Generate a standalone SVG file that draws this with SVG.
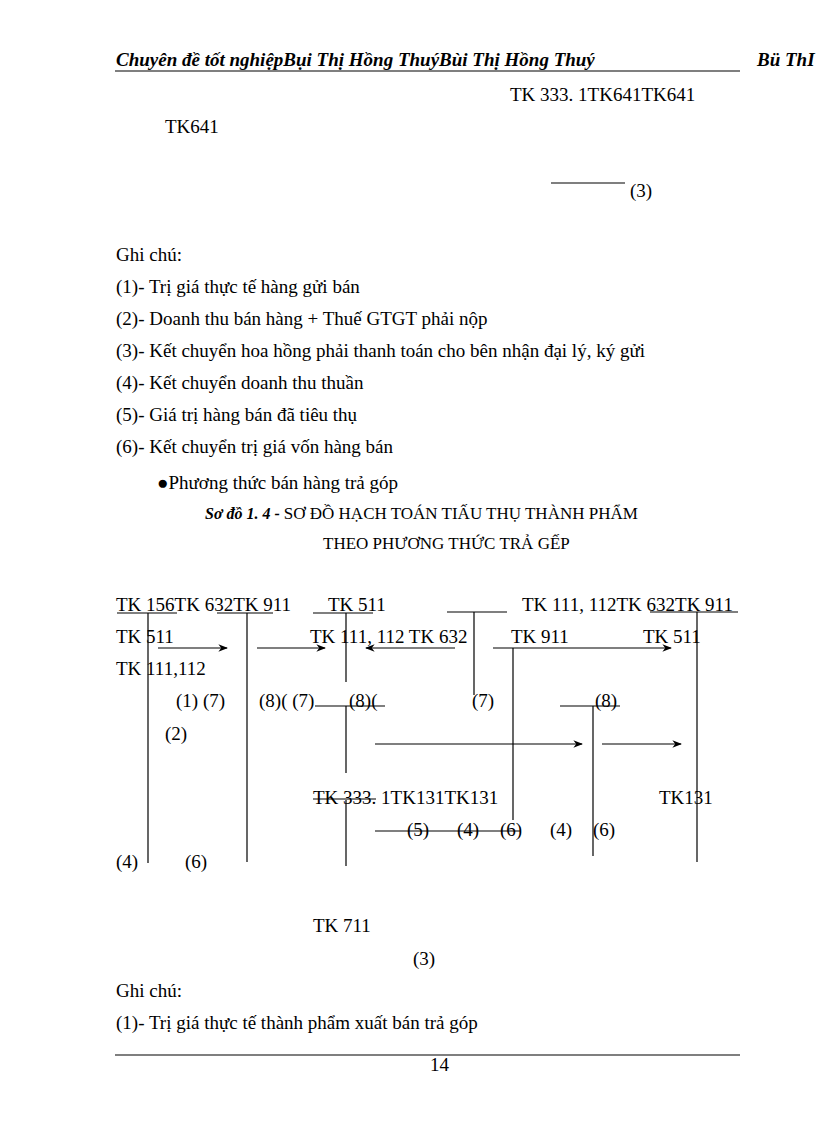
<svg xmlns="http://www.w3.org/2000/svg" width="816" height="1123" viewBox="0 0 816 1123">
<style>
text{font-family:"Liberation Serif","Times New Roman","DejaVu Serif",serif;font-size:19px;fill:#000}
.h{font-style:italic;font-weight:bold;font-size:19px}
.t{font-size:17px}
.ti{font-style:italic;font-weight:bold;font-size:16px}
line{stroke:#000;stroke-width:1.2}
.a{marker-end:url(#ar)}
</style>
<defs><marker id="ar" viewBox="0 0 10 10" refX="9" refY="5" markerWidth="8" markerHeight="8" orient="auto"><path d="M0,1 L10,5 L0,9 L3,5 Z" fill="#000"/></marker></defs>
<rect width="816" height="1123" fill="#fff"/>
<text class="h" x="116" y="66">Chuyên đề tốt nghiệpBụi Thị Hồng ThuýBùi Thị Hồng Thuý</text>
<text class="h" x="757" y="66">Bü ThI</text>
<line x1="115" y1="71" x2="740" y2="71"/>
<text x="510" y="101">TK 333. 1TK641TK641</text>
<text x="165" y="133">TK641</text>
<line x1="551" y1="183" x2="625" y2="183"/>
<text x="630" y="197">(3)</text>
<text x="116" y="261">Ghi chú:</text>
<text x="116" y="293">(1)- Trị giá thực tế hàng gửi bán</text>
<text x="116" y="325">(2)- Doanh thu bán hàng + Thuế GTGT phải nộp</text>
<text x="116" y="357">(3)- Kết chuyển hoa hồng phải thanh toán cho bên nhận đại lý, ký gửi</text>
<text x="116" y="389">(4)- Kết chuyển doanh thu thuần</text>
<text x="116" y="421">(5)- Giá trị hàng bán đã tiêu thụ</text>
<text x="116" y="453">(6)- Kết chuyển trị giá vốn hàng bán</text>
<text x="157" y="489">●Phương thức bán hàng trả góp</text>
<text x="205" y="519"><tspan class="ti">Sơ đồ 1. 4 - </tspan><tspan class="t">SƠ ĐỒ HẠCH TOÁN TIẤU THỤ THÀNH PHẨM</tspan></text>
<text class="t" x="323" y="549">THEO PHƯƠNG THỨC TRẢ GẾP</text>
<g id="labels">
<text x="116" y="611">TK 156TK 632TK 911</text>
<text x="328" y="611">TK 511</text>
<text x="522" y="611">TK 111, 112TK 632TK 911</text>
<text x="116" y="643">TK 511</text>
<text x="310" y="643">TK 111, 112  TK 632</text>
<text x="511" y="643">TK 911</text>
<text x="643" y="643">TK 511</text>
<text x="116" y="675">TK 111,112</text>
<text x="176" y="707">(1) (7)</text>
<text x="259" y="707">(8)( (7)</text>
<text x="349" y="707">(8)(</text>
<text x="472" y="707">(7)</text>
<text x="595" y="707">(8)</text>
<text x="165" y="740">(2)</text>
<text x="313" y="804">TK 333. 1TK131TK131</text>
<text x="659" y="804">TK131</text>
<text x="407" y="836">(5)</text>
<text x="457" y="836">(4)</text>
<text x="500" y="836">(6)</text>
<text x="550" y="836">(4)</text>
<text x="593" y="836">(6)</text>
<text x="116" y="868">(4)</text>
<text x="185" y="868">(6)</text>
<text x="313" y="932">TK 711</text>
<text x="413" y="965">(3)</text>
</g>
<g id="connectors">
<line x1="117" y1="613" x2="177" y2="613"/>
<line x1="217" y1="613" x2="273" y2="613"/>
<line x1="313" y1="613" x2="373" y2="613"/>
<line x1="447" y1="612" x2="507" y2="612"/>
<line x1="650" y1="612" x2="738" y2="612"/>
<line x1="148" y1="613" x2="148" y2="863"/>
<line x1="247" y1="613" x2="247" y2="862"/>
<line x1="346" y1="613" x2="346" y2="682"/>
<line x1="474" y1="612" x2="474" y2="695"/>
<line x1="697" y1="612" x2="697" y2="862"/>
<line class="a" x1="158" y1="648" x2="227" y2="648"/>
<line class="a" x1="257" y1="648" x2="325" y2="648"/>
<line class="a" x1="455" y1="648" x2="366" y2="648"/>
<line class="a" x1="493" y1="648" x2="671" y2="648"/>
<line x1="513" y1="648" x2="513" y2="820"/>
<line x1="315" y1="706" x2="385" y2="706"/>
<line x1="560" y1="706" x2="620" y2="706"/>
<line x1="346" y1="706" x2="346" y2="773"/>
<line x1="593" y1="706" x2="593" y2="856"/>
<line class="a" x1="375" y1="744" x2="582" y2="744"/>
<line class="a" x1="602" y1="744" x2="681" y2="744"/>
<line x1="313" y1="799" x2="376" y2="799"/>
<line x1="346" y1="800" x2="346" y2="866"/>
<line x1="375" y1="831" x2="520" y2="831"/>
</g>
<text x="116" y="997">Ghi chú:</text>
<text x="116" y="1029">(1)- Trị giá thực tế thành phẩm xuất bán trả góp</text>
<line x1="115" y1="1055" x2="740" y2="1055"/>
<text x="430" y="1071">14</text>
</svg>
